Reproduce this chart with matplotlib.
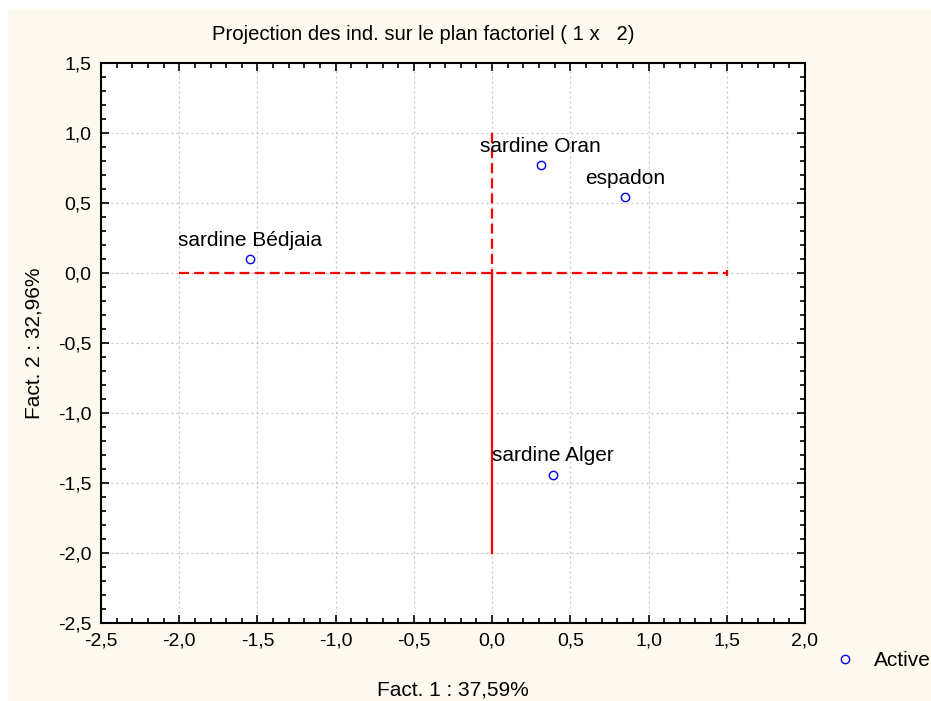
import matplotlib
matplotlib.use("Agg")
import matplotlib.pyplot as plt
from matplotlib.patches import Rectangle
from matplotlib.ticker import MultipleLocator, FuncFormatter

# individuals projected on the factorial plane (Fact. 1 x Fact. 2)
names = ["sardine Oran", "espadon", "sardine Bédjaia", "sardine Alger"]
fact1 = [0.31, 0.85, -1.55, 0.39]
fact2 = [0.77, 0.54, 0.10, -1.44]

# red reference axes drawn in the original
h_line_x = [-2.0, 1.5]
v_line_top = [1.0, 0.0]
v_line_bottom = [0.0, -2.0]

plt.rcParams["font.family"] = ["Liberation Sans", "DejaVu Sans"]
fs = 15

fig = plt.figure(figsize=(9.31, 7.01), dpi=100, facecolor="white")
fig.patches.append(Rectangle((8 / 931, 0), 1, 1 - 9 / 701, transform=fig.transFigure,
                             facecolor="#fffaf0", edgecolor="none", zorder=-10))

ax = fig.add_axes([101 / 931, 1 - 623 / 701, (805 - 101) / 931, (623 - 63) / 701])
ax.set_facecolor("white")

dash = (0, (4.5, 2.3))
ax.plot(h_line_x, [0, 0], color="red", lw=1.6, ls=dash)
ax.plot(h_line_x[1:], [0], "|", color="red", ms=4, mew=1.6)
ax.plot([0, 0], v_line_top, color="red", lw=1.6, ls=dash)
ax.plot([0, 0], v_line_bottom, color="red", lw=1.6)

ax.plot(fact1, fact2, "o", ms=6, mfc="none", mec="blue", mew=1, label="Active")
for n, x, y in zip(names, fact1, fact2):
    ax.annotate(n, (x, y), xytext=(0, 9.5), textcoords="offset points",
                ha="center", va="baseline", fontsize=fs)

ax.set_xlim(-2.5, 2.0)
ax.set_ylim(-2.5, 1.5)
ax.xaxis.set_major_locator(MultipleLocator(0.5))
ax.yaxis.set_major_locator(MultipleLocator(0.5))
ax.xaxis.set_minor_locator(MultipleLocator(0.1))
ax.yaxis.set_minor_locator(MultipleLocator(0.1))
comma = FuncFormatter(lambda v, p: f"{v:.1f}".replace(".", ",").replace("-0,0", "0,0"))
ax.xaxis.set_major_formatter(comma)
ax.yaxis.set_major_formatter(comma)
ax.tick_params(which="both", direction="in", top=True, right=True, labelsize=14, width=1.2)
ax.tick_params(which="major", length=6, pad=7)
ax.tick_params(which="minor", length=3.5)
for s in ax.spines.values():
    s.set_linewidth(1.5)
ax.grid(True, which="major", color="#c0c0c0", ls=(0, (1.5, 2.5)), lw=0.9)

ax.set_xlabel("Fact. 1 : 37,59%", fontsize=fs, labelpad=22)
ax.set_ylabel("Fact. 2 : 32,96%", fontsize=fs, labelpad=10)
fig.text(423 / 931, 1 - 35 / 701, "Projection des ind. sur le plan factoriel ( 1 x   2)",
         ha="center", va="center", fontsize=14.6)

fig.legend(loc="center left", bbox_to_anchor=(835 / 931, 1 - 661 / 701), frameon=False,
           fontsize=fs, handlelength=1, handletextpad=0.85, borderpad=0, borderaxespad=0)

fig.savefig("out.png", dpi=100, facecolor=fig.get_facecolor())
